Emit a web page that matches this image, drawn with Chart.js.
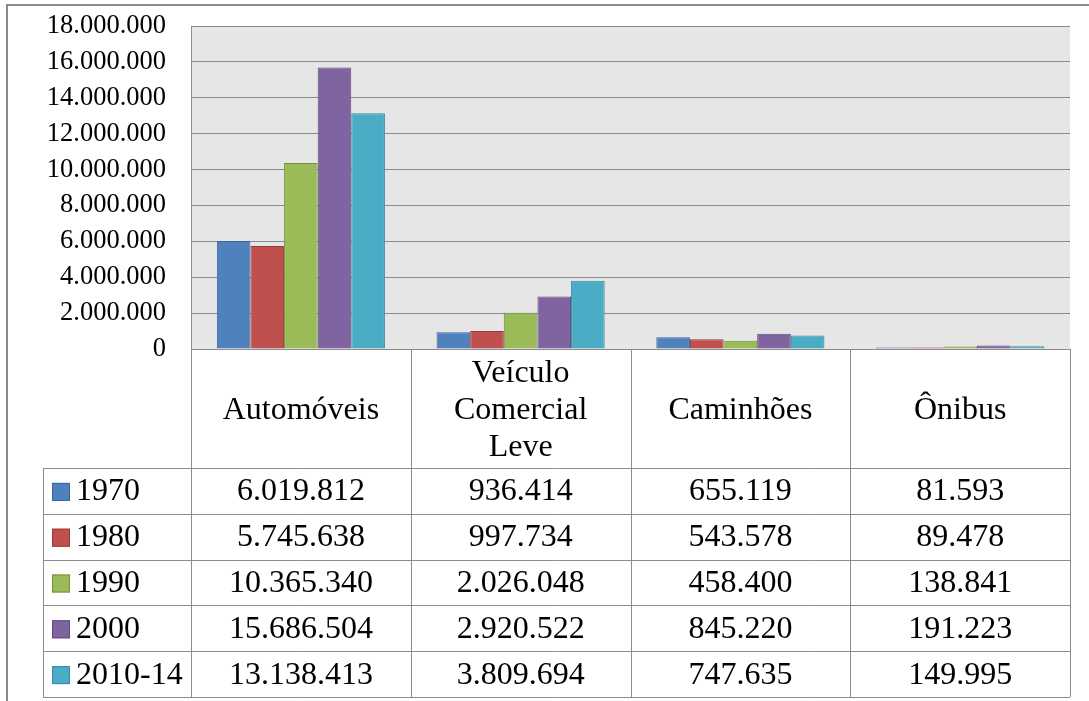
<!DOCTYPE html>
<html lang="pt">
<head>
    <meta charset="UTF-8">
    <title>Frota por categoria</title>
    <script src="https://cdn.jsdelivr.net/npm/chart.js"></script>
    <style>
        html, body { margin: 0; padding: 0; background: #fff; }
        .chart-box { position: relative; width: 1089px; height: 701px; }
    </style>
</head>
<body>
    <div class="chart-box">
        <canvas id="frotaChart"></canvas>
    </div>
    <script>
        // dados da tabela
        const categorias = ['Automóveis', ['Veículo', 'Comercial', 'Leve'], 'Caminhões', 'Ônibus'];
        const periodos = ['1970', '1980', '1990', '2000', '2010-14'];
        const v1970 = [6019812, 936414, 655119, 81593];
        const v1980 = [5745638, 997734, 543578, 89478];
        const v1990 = [10365340, 2026048, 458400, 138841];
        const v2000 = [15686504, 2920522, 845220, 191223];
        const v2010 = [13138413, 3809694, 747635, 149995];
        const yTicks = [0, 2000000, 4000000, 6000000, 8000000, 10000000, 12000000, 14000000, 16000000, 18000000];

        const cores = ['#4f81bd', '#c0504d', '#9bbb59', '#8064a2', '#4bacc6'];
        const bordas = ['#3a6397', '#943c3a', '#77923f', '#5f4a7b', '#3a8aa0'];
        const series = [v1970, v1980, v1990, v2000, v2010];

        const fonte = "'Liberation Serif', 'Times New Roman', serif";
        const linha = '#8c8c8c';

        function formata(n) {
            return String(n).replace(/\B(?=(\d{3})+(?!\d))/g, '.');
        }

        const tabelaPlugin = {
            id: 'tabela',
            beforeDraw(chart) {
                const a = chart.chartArea, ctx = chart.ctx;
                ctx.save();
                ctx.fillStyle = '#e6e6e6';
                ctx.fillRect(a.left, a.top, a.right - a.left, a.bottom - a.top);
                ctx.restore();
            },
            afterDraw(chart) {
                const ctx = chart.ctx, a = chart.chartArea, xs = chart.scales.x;
                const colW = (a.right - a.left) / categorias.length;
                const esq = 43, cabBase = 468, rowH = 45.8;
                const fim = cabBase + rowH * periodos.length;

                ctx.save();
                // moldura externa
                ctx.strokeStyle = '#8a8a8a';
                ctx.lineWidth = 2;
                ctx.beginPath();
                ctx.moveTo(7, 701); ctx.lineTo(7, 5); ctx.lineTo(1089, 5);
                ctx.stroke();

                // linhas da tabela
                ctx.strokeStyle = linha;
                ctx.lineWidth = 1;
                ctx.beginPath();
                for (let r = 0; r <= periodos.length; r++) {
                    const y = Math.round(cabBase + r * rowH) + 0.5;
                    ctx.moveTo(esq, y); ctx.lineTo(a.right, y);
                }
                ctx.moveTo(esq + 0.5, cabBase); ctx.lineTo(esq + 0.5, fim);
                for (let c = 0; c <= categorias.length; c++) {
                    const x = Math.round(a.left + c * colW) + 0.5;
                    ctx.moveTo(x, a.bottom); ctx.lineTo(x, fim);
                }
                ctx.stroke();

                // cabeçalho
                ctx.fillStyle = '#000';
                ctx.font = '32px ' + fonte;
                ctx.textAlign = 'center';
                ctx.textBaseline = 'middle';
                const cabMeio = (a.bottom + cabBase) / 2 + 2;
                categorias.forEach((cat, i) => {
                    const cx = xs.getPixelForValue(i);
                    const linhas = Array.isArray(cat) ? cat : [cat];
                    const lh = 37;
                    linhas.forEach((t, k) => {
                        ctx.fillText(t, cx, cabMeio + (k - (linhas.length - 1) / 2) * lh);
                    });
                });

                // linhas de valores
                periodos.forEach((p, r) => {
                    const yc = cabBase + r * rowH + rowH / 2 + 1;
                    ctx.fillStyle = cores[r];
                    ctx.fillRect(52, yc - 9, 18, 18);
                    ctx.strokeStyle = bordas[r];
                    ctx.strokeRect(52.5, yc - 8.5, 17, 17);
                    ctx.fillStyle = '#000';
                    ctx.textAlign = 'left';
                    ctx.fillText(p, 76, yc);
                    ctx.textAlign = 'center';
                    series[r].forEach((v, i) => {
                        ctx.fillText(formata(v), xs.getPixelForValue(i), yc);
                    });
                });
                ctx.restore();
            }
        };

        function desenha() {
            const ctx = document.getElementById('frotaChart').getContext('2d');
            return new Chart(ctx, {
                type: 'bar',
                data: {
                    labels: categorias,
                    datasets: periodos.map((p, i) => ({
                        label: p,
                        data: series[i],
                        backgroundColor: cores[i],
                        borderColor: bordas[i],
                        borderWidth: 1,
                        barPercentage: 1,
                        categoryPercentage: 0.765
                    }))
                },
                options: {
                    responsive: true,
                    maintainAspectRatio: false,
                    animation: false,
                    layout: { padding: { top: 26, right: 19, bottom: 352, left: 0 } },
                    plugins: {
                        legend: { display: false },
                        tooltip: { enabled: false }
                    },
                    scales: {
                        x: { display: false },
                        y: {
                            min: 0,
                            max: 18000000,
                            afterFit(scale) {
                                scale.width = 191;
                                scale.paddingTop = 0;
                                scale.paddingBottom = 0;
                            },
                            afterBuildTicks(scale) { scale.ticks = yTicks.map(v => ({ value: v })); },
                            grid: { color: linha, lineWidth: 1, drawTicks: false },
                            border: { display: true, color: linha },
                            ticks: {
                                padding: 25,
                                color: '#000',
                                font: { family: fonte, size: 26.5 },
                                callback: v => formata(v)
                            }
                        }
                    }
                },
                plugins: [tabelaPlugin]
            });
        }

        // espera a fonte serifada antes de desenhar
        Promise.all([
            document.fonts.load('26px "Liberation Serif"'),
            document.fonts.load('32px "Liberation Serif"')
        ]).then(desenha, desenha);
    </script>
</body>
</html>
